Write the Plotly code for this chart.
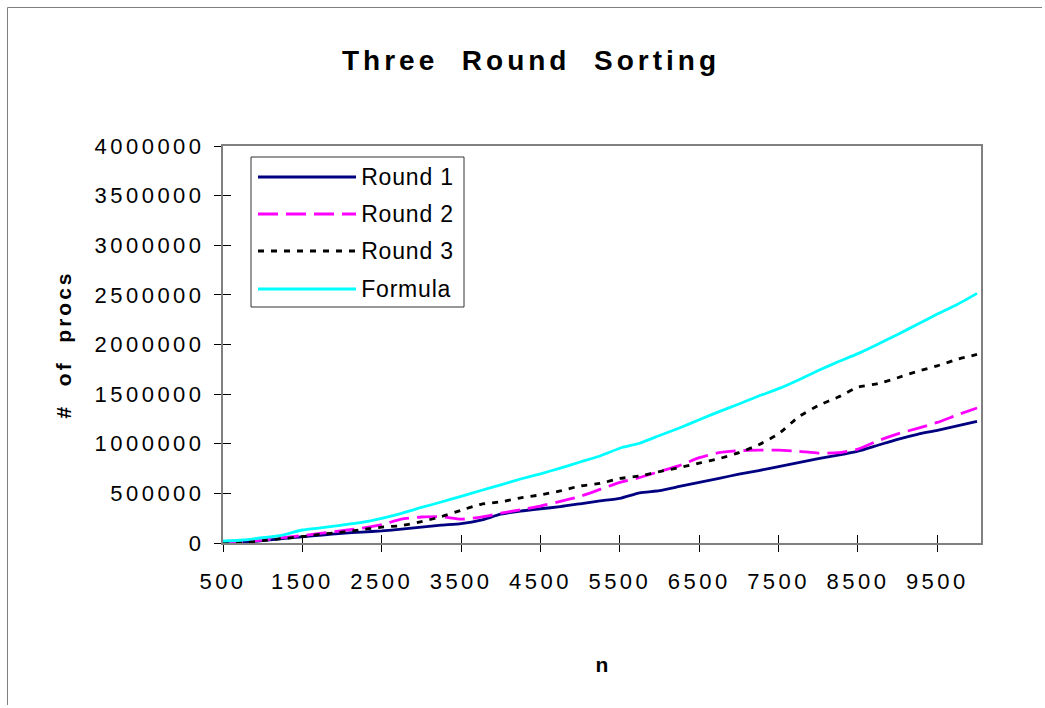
import plotly.graph_objects as go

# ---------------- data ----------------
n_values = [500, 750, 1000, 1250, 1500, 1750, 2000, 2250, 2500, 2750,
            3000, 3250, 3500, 3750, 4000, 4250, 4500, 4750, 5000, 5250,
            5500, 5750, 6000, 6250, 6500, 6750, 7000, 7250, 7500, 7750,
            8000, 8250, 8500, 8750, 9000, 9250, 9500, 9750, 10000]

round1 = [5000, 10000, 25000, 45000, 62000, 80000, 97000, 110000, 122000, 140000,
          160000, 180000, 195000, 230000, 290000, 322000, 345000, 366000, 395000, 425000,
          450000, 505000, 528000, 570000, 612000, 652000, 693000, 730000, 770000, 810000,
          850000, 885000, 925000, 985000, 1045000, 1095000, 1135000, 1180000, 1225000]

round2 = [0, 10000, 30000, 55000, 75000, 100000, 125000, 150000, 185000, 240000,
          262000, 265000, 240000, 260000, 300000, 335000, 372000, 420000, 470000, 540000,
          610000, 660000, 720000, 780000, 860000, 910000, 930000, 935000, 935000, 925000,
          905000, 910000, 945000, 1030000, 1100000, 1155000, 1215000, 1290000, 1360000]

round3 = [0, 5000, 25000, 45000, 65000, 90000, 110000, 135000, 160000, 175000,
          215000, 265000, 330000, 390000, 415000, 455000, 485000, 525000, 575000, 600000,
          650000, 675000, 720000, 760000, 805000, 850000, 910000, 990000, 1100000, 1270000,
          1385000, 1470000, 1570000, 1605000, 1665000, 1730000, 1785000, 1850000, 1900000]

formula = [20000, 30000, 53000, 80000, 131000, 154000, 181000, 208000, 249000, 299000,
           358000, 413000, 470000, 529000, 586000, 645000, 697000, 754000, 816000, 877000,
           955000, 1005000, 1083000, 1159000, 1242000, 1324000, 1400000, 1481000, 1555000, 1643000,
           1738000, 1826000, 1908000, 2002000, 2102000, 2203000, 2307000, 2403000, 2515000]

series_names = ["Round 1", "Round 2", "Round 3", "Formula"]
x_tick_values = [500, 1500, 2500, 3500, 4500, 5500, 6500, 7500, 8500, 9500]
x_tick_labels = ["500", "1500", "2500", "3500", "4500", "5500", "6500", "7500", "8500", "9500"]
y_tick_values = [0, 500000, 1000000, 1500000, 2000000, 2500000, 3000000, 3500000, 4000000]
y_tick_labels = ["0", "500000", "1000000", "1500000", "2000000", "2500000", "3000000", "3500000", "4000000"]

# ---------------- styling ----------------
W, H = 1045, 708
L, R, T, B = 223, 981, 146, 543          # plot area in pixels
FONT = "Liberation Sans, Arial, sans-serif"
colors = ["#000080", "#FF00FF", "#000000", "#00FFFF"]
dashes = ["solid", "20px,8px", "6px,7px", "solid"]
LW = 2.8
X_RANGE = [500, 10050]
Y_RANGE = [0, 4000000]


def px(x):
    return (x - L) / (R - L)


def py(y):
    return (B - y) / (B - T)


fig = go.Figure()
all_series = [round1, round2, round3, formula]
for i, (name, vals) in enumerate(zip(series_names, all_series)):
    on_overlay = (i == 3)
    fig.add_trace(go.Scatter(
        x=n_values, y=vals, name=name, mode="lines",
        line=dict(color=colors[i], width=LW, dash=dashes[i], shape="spline", smoothing=0.5),
        xaxis="x2" if on_overlay else "x", yaxis="y2" if on_overlay else "y",
        showlegend=False, hoverinfo="x+y+name",
    ))

axis_common = dict(showgrid=False, zeroline=False)
fig.update_layout(
    width=W, height=H,
    margin=dict(l=L, r=W - R, t=T, b=H - B),
    paper_bgcolor="white", plot_bgcolor="white",
    font=dict(family=FONT, color="black"),
    title=dict(text="<b>Three  Round  Sorting</b>", x=531 / W, xanchor="center",
               y=1 - 60 / H, yanchor="middle", font=dict(size=28, family=FONT, color="black")),
    xaxis=dict(range=X_RANGE, tickmode="array", tickvals=x_tick_values, ticktext=x_tick_labels,
               ticks="outside", ticklen=7, tickwidth=1, tickcolor="black",
               showline=True, linecolor="#808080", linewidth=2, mirror=True,
               tickfont=dict(size=22, family=FONT, color="black"), ticklabelstandoff=11,
               title=dict(text="<b>n</b>", font=dict(size=21, family=FONT, color="black"), standoff=64),
               **axis_common),
    yaxis=dict(range=Y_RANGE, tickmode="array", tickvals=y_tick_values, ticktext=y_tick_labels,
               ticks="outside", ticklen=7, tickwidth=1, tickcolor="black",
               showline=True, linecolor="#808080", linewidth=2, mirror=True,
               tickfont=dict(size=22, family=FONT, color="black"), ticklabelstandoff=5,
               title=dict(text="<b>#  of  procs</b>", font=dict(size=21, family=FONT, color="black"), standoff=42),
               **axis_common),
    xaxis2=dict(range=X_RANGE, overlaying="x", anchor="y2", side="bottom", tickmode="array",
                tickvals=x_tick_values, ticks="inside", ticklen=8, tickwidth=1, tickcolor="black",
                showticklabels=False, showline=False, **axis_common),
    yaxis2=dict(range=Y_RANGE, overlaying="y", anchor="x2", side="left", tickmode="array",
                tickvals=y_tick_values, ticks="inside", ticklen=8, tickwidth=1, tickcolor="black",
                showticklabels=False, showline=False, **axis_common),
)

# outer chart-area border: only its left and top edges are inside the window
fig.add_shape(type="line", xref="paper", yref="paper",
              x0=px(7.5), x1=px(7.5), y0=py(7.5), y1=py(705),
              line=dict(color="#7f7f7f", width=1), layer="below")
fig.add_shape(type="line", xref="paper", yref="paper",
              x0=px(7.5), x1=px(1042), y0=py(7.5), y1=py(7.5),
              line=dict(color="#7f7f7f", width=1), layer="below")

# hand-built legend (long line samples as in the reference)
leg_box = dict(x0=251, x1=464, y0=157, y1=307)
fig.add_shape(type="rect", xref="paper", yref="paper",
              x0=px(leg_box["x0"]), x1=px(leg_box["x1"]), y0=py(leg_box["y1"]), y1=py(leg_box["y0"]),
              line=dict(color="#333333", width=1), fillcolor="white", layer="above")
legend_rows = [177, 214, 251, 289]
for i, name in enumerate(series_names):
    yy = py(legend_rows[i])
    fig.add_shape(type="line", xref="paper", yref="paper",
                  x0=px(258), x1=px(356), y0=yy, y1=yy,
                  line=dict(color=colors[i], width=LW, dash=dashes[i]), layer="above")
    fig.add_annotation(xref="paper", yref="paper", x=px(362), y=yy, xanchor="left", yanchor="middle",
                       text=name, showarrow=False, font=dict(size=23, family=FONT, color="black"))

post = """
function applySpacing(){
  document.querySelectorAll('.xtick text, .ytick text').forEach(function(t){ t.style.letterSpacing = '3.5px'; });
  document.querySelectorAll('.gtitle').forEach(function(t){ t.style.letterSpacing = '4px'; });
  document.querySelectorAll('.ytitle').forEach(function(t){ t.style.letterSpacing = '3px'; });
  document.querySelectorAll('.annotation-text').forEach(function(t){ t.style.letterSpacing = '0.8px'; });
}
applySpacing();
var gdx = document.querySelector('.js-plotly-plot');
if (gdx && gdx.on) { gdx.on('plotly_afterplot', applySpacing); }
"""

fig.write_html("out.html", post_script=post, config={"displayModeBar": False})
